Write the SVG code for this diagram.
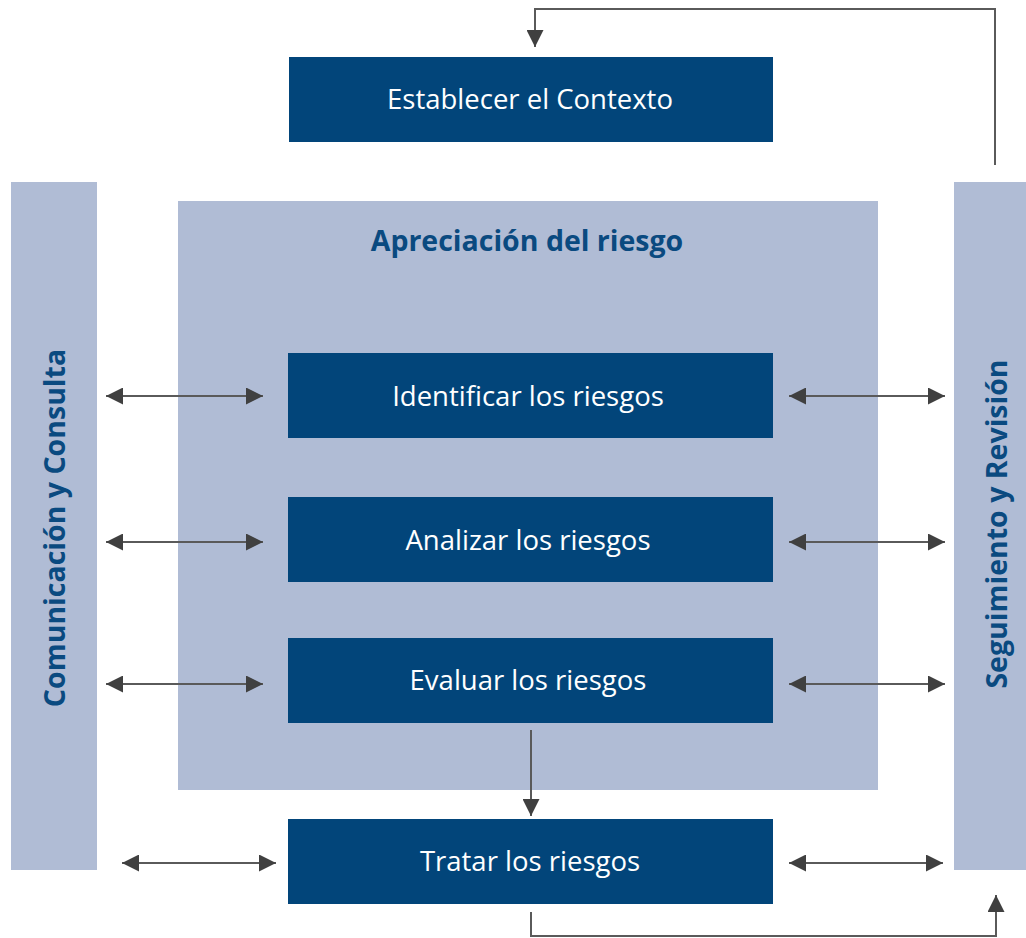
<svg xmlns="http://www.w3.org/2000/svg" width="1026" height="938" viewBox="0 0 1026 938">
<defs>
<style>
.dark{fill:#02457a}
.light{fill:#b0bcd5}
.wt{fill:#ffffff;font-family:"Open Sans","Liberation Sans",sans-serif;font-size:27.5px;text-anchor:middle}
.bt{fill:#0a4a80;font-family:"Open Sans","Liberation Sans",sans-serif;font-size:28.5px;font-weight:bold;text-anchor:middle}
.ln{stroke:#5a5a5a;stroke-width:2;fill:none}
</style>
<marker id="a" viewBox="0 0 17 17" refX="17" refY="8.5" markerWidth="17" markerHeight="17" markerUnits="userSpaceOnUse" orient="auto-start-reverse">
<path d="M0,0 L17,8.5 L0,17 z" fill="#404040"/>
</marker>
</defs>
<rect width="1026" height="938" fill="#ffffff"/>
<g id="comunicacion">
<rect class="light" x="11" y="182" width="86" height="688"/>
<text class="bt" transform="translate(65,528) rotate(-90)">Comunicación y Consulta</text>
</g>
<g id="seguimiento">
<rect class="light" x="954" y="182" width="72" height="688"/>
<text class="bt" transform="translate(1007,524) rotate(-90)">Seguimiento y Revisión</text>
</g>
<g id="apreciacion">
<rect class="light" x="178" y="201" width="700" height="589"/>
<text class="bt" x="527" y="251">Apreciación del riesgo</text>
</g>
<g id="contexto">
<rect class="dark" x="289" y="57" width="484" height="85"/>
<text class="wt" x="530" y="109">Establecer el Contexto</text>
</g>
<g id="identificar">
<rect class="dark" x="288" y="353" width="485" height="85"/>
<text class="wt" x="528" y="406">Identificar los riesgos</text>
</g>
<g id="analizar">
<rect class="dark" x="288" y="497" width="485" height="85"/>
<text class="wt" x="528" y="550">Analizar los riesgos</text>
</g>
<g id="evaluar">
<rect class="dark" x="288" y="638" width="485" height="85"/>
<text class="wt" x="528" y="690">Evaluar los riesgos</text>
</g>
<g id="tratar">
<rect class="dark" x="288" y="819" width="485" height="85"/>
<text class="wt" x="530" y="871">Tratar los riesgos</text>
</g>
<g id="connectors">
<line class="ln" x1="106" y1="396" x2="263" y2="396" marker-start="url(#a)" marker-end="url(#a)"/>
<line class="ln" x1="789" y1="396" x2="945" y2="396" marker-start="url(#a)" marker-end="url(#a)"/>
<line class="ln" x1="106" y1="542" x2="263" y2="542" marker-start="url(#a)" marker-end="url(#a)"/>
<line class="ln" x1="789" y1="542" x2="945" y2="542" marker-start="url(#a)" marker-end="url(#a)"/>
<line class="ln" x1="106" y1="684" x2="263" y2="684" marker-start="url(#a)" marker-end="url(#a)"/>
<line class="ln" x1="789" y1="684" x2="945" y2="684" marker-start="url(#a)" marker-end="url(#a)"/>
<line class="ln" x1="122" y1="863" x2="276" y2="863" marker-start="url(#a)" marker-end="url(#a)"/>
<line class="ln" x1="789" y1="863" x2="943" y2="863" marker-start="url(#a)" marker-end="url(#a)"/>
<line class="ln" x1="531" y1="730" x2="531" y2="816" marker-end="url(#a)"/>
<polyline class="ln" points="995,165 995,9 535,9 535,47" marker-end="url(#a)"/>
<polyline class="ln" points="531,912 531,936 996,936 996,895" marker-end="url(#a)"/>
</g>
</svg>
